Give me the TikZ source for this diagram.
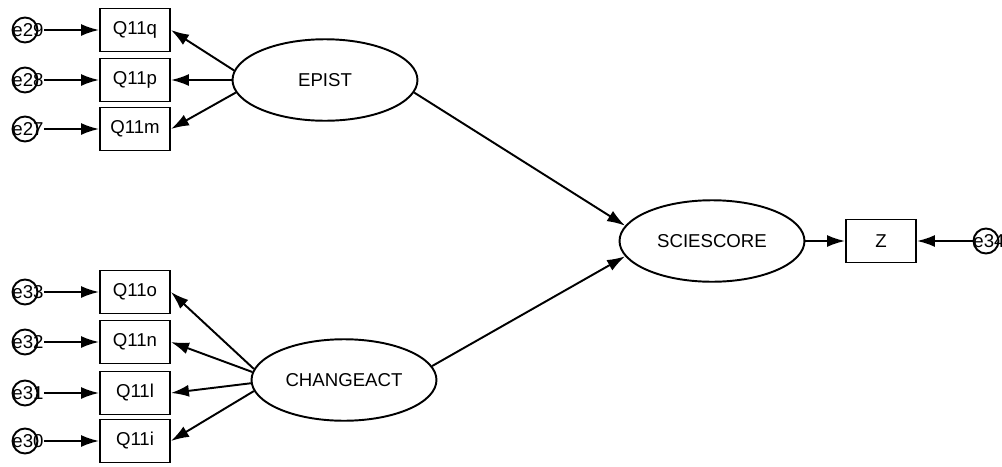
\documentclass[tikz,border=0pt]{standalone}
\usepackage{fontspec}
\setmainfont{Liberation Sans}
\usetikzlibrary{shapes.geometric,arrows.meta}

\newcommand{\errtext}[1]{\makebox[0pt]{\hspace{0.12cm}#1}}

\begin{document}
\begin{tikzpicture}[x=0.02cm, y=-0.02cm, line width=1.1pt,
    font=\fontsize{10.6}{12}\selectfont,
    >={Latex[length=0.36cm,width=0.24cm]},
    obsbox/.style={draw, rectangle, minimum width=1.4cm, minimum height=0.86cm, inner sep=0pt},
    latent/.style={draw, ellipse, minimum width=3.7cm, minimum height=1.63cm, inner sep=0pt},
    errcirc/.style={draw, circle, minimum size=0.5cm, inner sep=0pt}]
\useasboundingbox (0,0) rectangle (1002,467);

% Latent variables
\node[latent] (EPIST) at (325,80) {EPIST};
\node[latent] (CHANGEACT) at (344,380) {CHANGEACT};
\node[latent] (SCIESCORE) at (712,241) {SCIESCORE};

% Indicators of EPIST
\foreach \ind/\err/\y/\ang in {q/29/30/174, p/28/80/180, m/27/129/188} {
    \node[obsbox] (Q11\ind) at (135,\y) {Q11\ind};
    \node[errcirc] (e\err) at (25,\y) {\errtext{e\err}};
    \draw[->] ([xshift=0.11cm]e\err.east) -- (Q11\ind);
    \draw[->] (EPIST.\ang) -- (Q11\ind.east);
}

% Indicators of CHANGEACT
\foreach \ind/\err/\y/\ang in {o/33/292/173, n/32/342/175, l/31/393/182, i/30/441/187} {
    \node[obsbox] (Q11\ind) at (135,\y) {Q11\ind};
    \node[errcirc] (e\err) at (25,\y) {\errtext{e\err}};
    \draw[->] ([xshift=0.11cm]e\err.east) -- (Q11\ind);
    \draw[->] (CHANGEACT.\ang) -- (Q11\ind.east);
}

% Structural paths
\draw[->] (EPIST.-8) -- (SCIESCORE.170);
\draw[->] (CHANGEACT.9) -- (SCIESCORE.190);

% Observed outcome
\node[obsbox] (Z) at (881,241) {Z};
\node[errcirc] (e34) at (986,241) {\errtext{e34}};
\draw[->] (SCIESCORE) -- (Z);
\draw[->] (e34) -- (Z);
\end{tikzpicture}
\end{document}
